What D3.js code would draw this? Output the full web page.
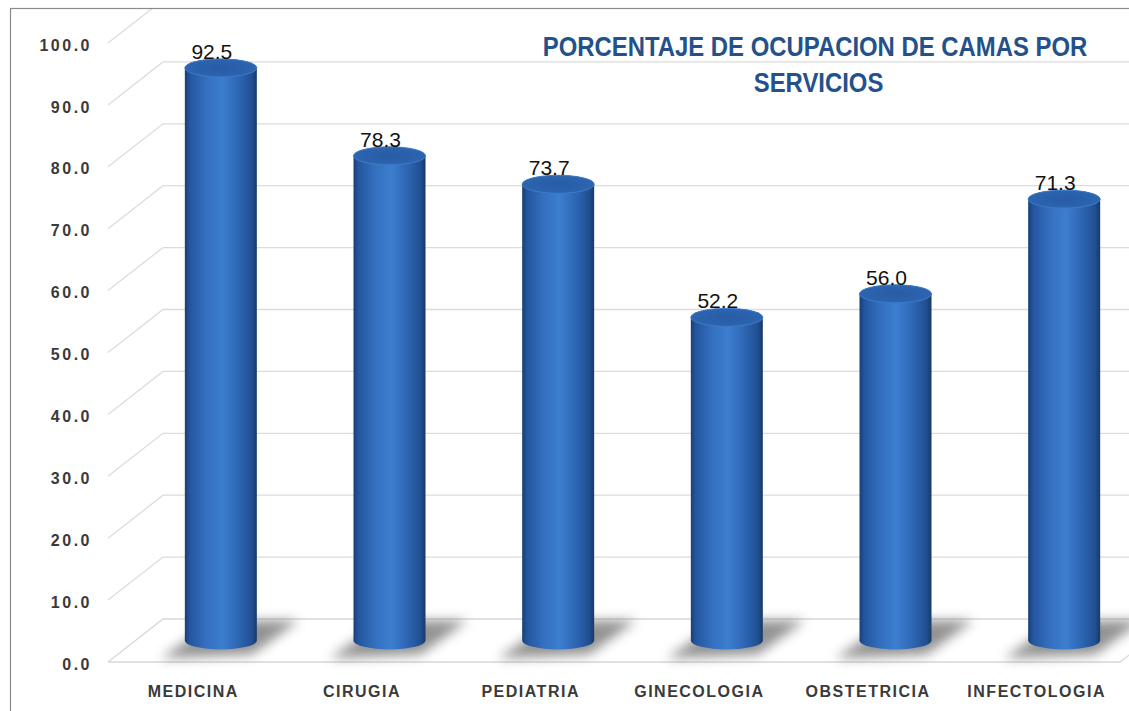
<!DOCTYPE html>
<html>
<head>
<meta charset="utf-8">
<script src="https://cdn.jsdelivr.net/npm/d3@7"></script>
<style>
  body { margin: 0; background: #fff; }
  svg { display: block; }
  .tick-label { font-family: "Liberation Sans", Arial, sans-serif; font-weight: bold; font-size: 16px; fill: #3a3a3a; letter-spacing: 2.5px; }
  .cat-label { font-family: "Liberation Sans", Arial, sans-serif; font-weight: bold; font-size: 16px; fill: #3a3a3a; letter-spacing: 1.5px; }
  .value-label { font-family: "Liberation Sans", Arial, sans-serif; font-size: 21px; fill: #111; }
  .title { font-family: "Liberation Sans", Arial, sans-serif; font-weight: bold; font-size: 27px; fill: #24518a; }
</style>
</head>
<body>
<svg id="chart"></svg>
<script>
// chart data
const categories = ["MEDICINA", "CIRUGIA", "PEDIATRIA", "GINECOLOGIA", "OBSTETRICIA", "INFECTOLOGIA"];
const occupancy = [92.5, 78.3, 73.7, 52.2, 56.0, 71.3];
const tickValues = [0, 10, 20, 30, 40, 50, 60, 70, 80, 90, 100];
const titleLines = ["PORCENTAJE DE OCUPACION DE CAMAS POR", "SERVICIOS"];

class CylinderChart {
  constructor(_config, _categories, _values) {
    this.config = {
      parentElement: _config.parentElement,
      containerWidth: _config.containerWidth || 1129,
      containerHeight: _config.containerHeight || 711,
      // front floor edge of the 3d box
      left: 108, right: 1120, bottom: 662, top: 43,
      // depth of the box (front -> back wall)
      depthX: 55, depthY: -43
    }
    this.categories = _categories;
    this.values = _values;
    this.initVis();
  }

  initVis() {
    let vis = this;
    let c = vis.config;

    vis.svg = d3.select(c.parentElement)
      .attr('width', c.containerWidth)
      .attr('height', c.containerHeight);

    vis.x = d3.scaleBand().domain(vis.categories).range([c.left, c.right]);
    vis.y = d3.scaleLinear().domain([0, 100]).range([c.bottom, c.top]);

    let defs = vis.svg.append('defs');

    let grad = defs.append('linearGradient').attr('id', 'cylGrad')
      .attr('x1', '0%').attr('x2', '100%').attr('y1', '0%').attr('y2', '0%');
    [['0%', '#173f74'], ['7%', '#2456a0'], ['30%', '#3470bf'], ['52%', '#3c7ecf'],
     ['78%', '#2b62ae'], ['93%', '#214f90'], ['100%', '#163a68']]
      .forEach(s => grad.append('stop').attr('offset', s[0]).attr('stop-color', s[1]));

    let topGrad = defs.append('radialGradient').attr('id', 'topGrad')
      .attr('cx', '50%').attr('cy', '50%').attr('r', '60%');
    topGrad.append('stop').attr('offset', '0%').attr('stop-color', '#285ca4');
    topGrad.append('stop').attr('offset', '80%').attr('stop-color', '#2c64b0');
    topGrad.append('stop').attr('offset', '100%').attr('stop-color', '#3a78c6');

    defs.append('filter').attr('id', 'shadowBlur')
      .attr('x', '-50%').attr('y', '-50%').attr('width', '200%').attr('height', '200%')
      .append('feGaussianBlur').attr('stdDeviation', 6);

    defs.append('clipPath').attr('id', 'frameClip')
      .append('rect').attr('x', 11).attr('y', 9).attr('width', 1200).attr('height', 800);

    vis.drawGrid();
    vis.drawCylinders();
    vis.drawLabels();

    // chart frame
    vis.svg.append('rect')
      .attr('x', 10.5).attr('y', 8.5)
      .attr('width', 1300).attr('height', 900)
      .attr('fill', 'none')
      .attr('stroke', '#8a8a8a')
      .attr('stroke-width', 1.2);
  }

  drawGrid() {
    let vis = this;
    let c = vis.config;
    let g = vis.svg.append('g').attr('clip-path', 'url(#frameClip)');

    // back wall lines + side wall diagonals
    g.selectAll('.back-grid')
      .data(tickValues)
      .join('path')
        .attr('class', 'back-grid')
        .attr('fill', 'none')
        .attr('stroke', d => d === 0 ? '#d4d8de' : '#dcdcdc')
        .attr('stroke-width', 1.3)
        .attr('d', d => {
          let yf = vis.y(d);
          return `M${c.left},${yf} L${c.left + c.depthX},${yf + c.depthY} L${c.right + c.depthX + 40},${yf + c.depthY}`;
        });

    // front floor edge and right floor diagonal
    g.append('path')
      .attr('fill', 'none')
      .attr('stroke', '#d4d8de')
      .attr('stroke-width', 1.3)
      .attr('d', `M${c.left},${vis.y(0)} L${c.right},${vis.y(0)} L${c.right + c.depthX},${vis.y(0) + c.depthY}`);

    // y tick labels
    vis.svg.selectAll('.tick-label')
      .data(tickValues)
      .join('text')
        .attr('class', 'tick-label')
        .attr('x', 92)
        .attr('y', d => vis.y(d) + 2)
        .attr('dy', '.35em')
        .attr('text-anchor', 'end')
        .text(d => d3.format('.1f')(d));
  }

  drawCylinders() {
    let vis = this;
    let c = vis.config;
    let r = 36, ry = 9;
    let cx = d => vis.x(d.cat) + vis.x.bandwidth() / 2 + c.depthX / 2 + 1;
    let yb = vis.y(0) + c.depthY / 2;
    let data = vis.categories.map((cat, i) => ({ cat: cat, value: vis.values[i] }));

    // floor shadows
    vis.svg.append('g').selectAll('polygon')
      .data(data)
      .join('polygon')
        .attr('fill', '#777')
        .attr('opacity', 0.8)
        .attr('filter', 'url(#shadowBlur)')
        .attr('points', d => {
          let x0 = cx(d);
          return [[x0 - r - 24, yb + 18], [x0 + r - 5, yb + 14], [x0 + r + 42, yb - 20], [x0 - 5, yb - 20]]
            .map(p => p.join(',')).join(' ');
        });

    let bars = vis.svg.append('g').selectAll('g')
      .data(data)
      .join('g');

    // body
    bars.append('path')
      .attr('fill', 'url(#cylGrad)')
      .attr('d', d => {
        let x0 = cx(d);
        let yt = vis.y(d.value) + c.depthY / 2;
        return `M${x0 - r},${yt} L${x0 - r},${yb} A${r},${ry} 0 0 0 ${x0 + r},${yb} L${x0 + r},${yt} A${r},${ry} 0 0 0 ${x0 - r},${yt} Z`;
      });

    // top cap
    bars.append('ellipse')
      .attr('cx', d => cx(d))
      .attr('cy', d => vis.y(d.value) + c.depthY / 2)
      .attr('rx', r)
      .attr('ry', ry)
      .attr('fill', 'url(#topGrad)')
      .attr('stroke', '#3d7bc9')
      .attr('stroke-width', 1);

    // value labels
    bars.append('text')
      .attr('class', 'value-label')
      .attr('x', d => cx(d) - 9)
      .attr('y', d => vis.y(d.value) + c.depthY / 2 - 9)
      .attr('text-anchor', 'middle')
      .text(d => d3.format('.1f')(d.value));
  }

  drawLabels() {
    let vis = this;

    // category labels under the front edge
    vis.svg.selectAll('.cat-label')
      .data(vis.categories)
      .join('text')
        .attr('class', 'cat-label')
        .attr('x', d => vis.x(d) + vis.x.bandwidth() / 2 + 1)
        .attr('y', 697)
        .attr('text-anchor', 'middle')
        .text(d => d);

    // title, squeezed horizontally to mimic the narrow original face
    let title = vis.svg.append('g').attr('transform', 'translate(815,0) scale(0.885,1)');
    title.append('text')
      .attr('class', 'title')
      .attr('x', 0).attr('y', 56)
      .attr('text-anchor', 'middle')
      .text(titleLines[0]);

    title.append('text')
      .attr('class', 'title')
      .attr('x', 4).attr('y', 92)
      .attr('text-anchor', 'middle')
      .text(titleLines[1]);
  }
}

new CylinderChart({ parentElement: '#chart', containerWidth: 1129, containerHeight: 711 }, categories, occupancy);
</script>
</body>
</html>
